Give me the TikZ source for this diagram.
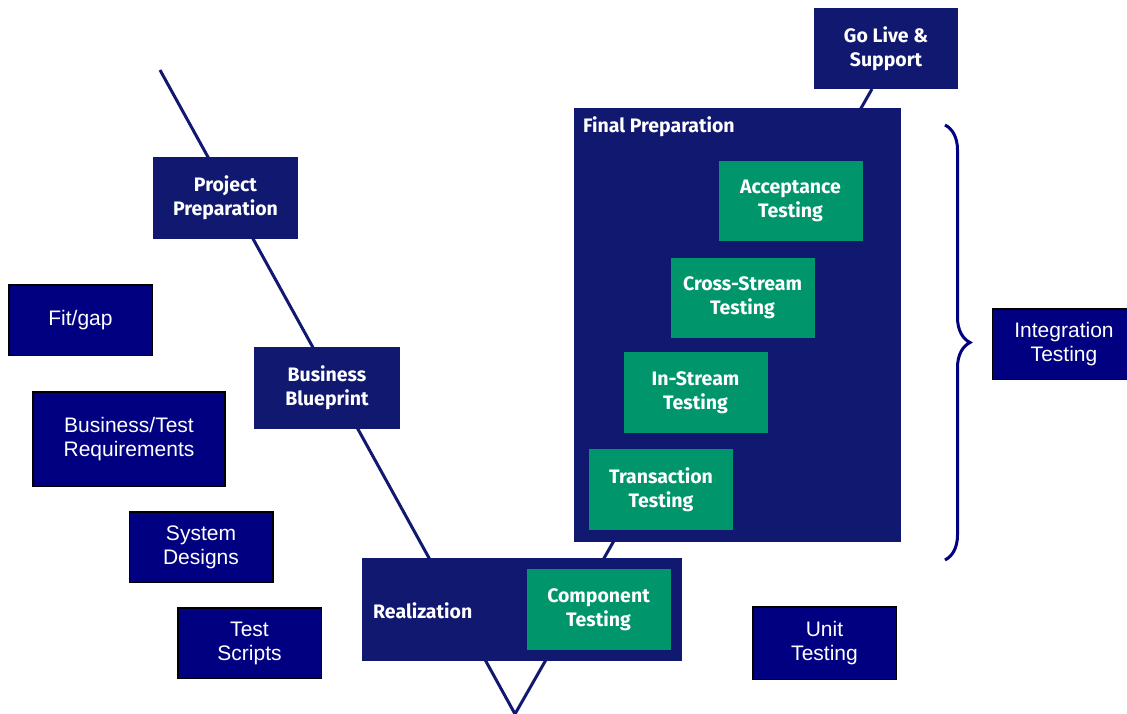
\documentclass[tikz,border=0pt]{standalone}
\usepackage{fontspec}
\setmainfont{Liberation Sans}
\newfontfamily\phasefont{Fira Sans}
\usetikzlibrary{positioning, decorations.pathreplacing}
\definecolor{phaseblue}{RGB}{16,24,112}
\definecolor{delivblue}{RGB}{0,0,128}
\definecolor{testgreen}{RGB}{0,149,107}
\tikzset {
    phasetext/.style={text=white, inner sep=0pt, align=center,
        font=\phasefont\bfseries\fontsize{19.5}{24}\selectfont},
    phase/.style={phasetext, fill=phaseblue, minimum width=145pt, minimum height=82pt},
    testing/.style={phase, fill=testgreen, minimum width=144pt, minimum height=81pt},
    deliverable/.style={fill=delivblue, draw=black, line width=1.5pt, text=white,
        inner sep=0pt, align=center, minimum width=143.5pt, minimum height=70.5pt,
        font=\fontsize{21}{24}\selectfont},
    vline/.style={draw=phaseblue, line width=3pt},
    bracket/.style={draw=delivblue, line width=3pt,
        decorate, decoration={brace, amplitude=25pt}}
}

\begin{document}
\begin{tikzpicture}[x=1pt, y=-1pt]
    \useasboundingbox (0,0) rectangle (1127,714);

    \coordinate (vtop) at (160,70);
    \coordinate (vbase) at (515,714);
    \coordinate (vend) at (872,89);
    \draw[vline] (vtop) -- (vbase) -- (vend);

    \node[phase] (project) at (225.5,198) {Project\\Preparation};
    \node[phase, minimum width=146pt] (blueprint) at (327,388) {Business\\Blueprint};
    \node[phase, minimum width=144pt, minimum height=81pt] (golive) at (886,48.5) {Go Live \&\\Support};
    \node[phase, minimum width=327pt, minimum height=434pt] (final) at (737.5,325) {};
    \node[phasetext, anchor=west] (finallabel) at (583,127) {Final Preparation};
    \node[phase, minimum width=320pt, minimum height=103pt] (realization) at (522,609.5) {};
    \node[phasetext, anchor=west] (reallabel) at (373,611) {Realization};

    \node[testing] (component) at (598.5,609.5) {Component\\Testing};
    \node[testing, minimum height=80pt] (acceptance) at (790.5,201) {Acceptance\\Testing};
    \node[testing, minimum height=80pt] (crossstream) at (742.5,298) {Cross-Stream\\Testing};
    \node[testing] (instream) at (695.5,392.5) {In-Stream\\Testing};
    \node[testing] (transaction) at (661,489.5) {Transaction\\Testing};

    \node[deliverable] (fitgap) at (80.5,320) {Fit/gap};
    \node[deliverable, minimum width=192pt, minimum height=94.5pt] (requirements) at (129,439) {Business/Test\\Requirements};
    \node[deliverable] (designs) at (201,547) {System\\Designs};
    \node[deliverable] (scripts) at (249.5,643) {Test\\Scripts};
    \node[deliverable, minimum height=72.5pt] (unit) at (824.5,643) {Unit\\Testing};
    \node[deliverable] (integration) at (1064,344) {Integration\\Testing};

    \coordinate (bracetop) at (945,125);
    \coordinate (bracebottom) at (945,560);
    \draw[bracket] (bracetop) -- (bracebottom);
\end{tikzpicture}
\end{document}
